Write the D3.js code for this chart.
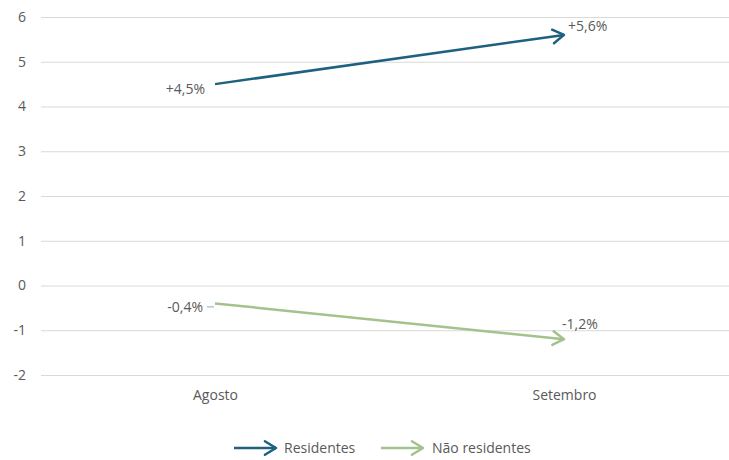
<!DOCTYPE html>
<html>
<head>
<meta charset="utf-8">
<script src="https://cdn.jsdelivr.net/npm/d3@7"></script>
<style>
body { margin: 0; background: #fff; }
svg text { font-family: "Open Sans", "Liberation Sans", sans-serif; fill: #595959; }
</style>
</head>
<body>
<svg id="svg" width="729" height="460"></svg>
<script>
var months = ['Agosto', 'Setembro'];
var residentes = [4.5, 5.6];
var naoResidentes = [-0.4, -1.2];
var seriesNames = ['Residentes', 'Não residentes'];
var seriesColors = ['#1d6080', '#a3c28c'];
var yTicks = [-2, -1, 0, 1, 2, 3, 4, 5, 6];

var svg = d3.select('svg');
var fs = 14;

var x = d3.scalePoint()
    .domain(months)
    .range([215, 564]);

var y = d3.scaleLinear()
    .domain([-2, 6])
    .range([375, 17]);

// gridlines
svg.append('g')
    .selectAll('line')
    .data(yTicks)
    .enter()
    .append('line')
    .attr('x1', 41)
    .attr('x2', 729)
    .attr('y1', function (d) { return y(d) + 0.5; })
    .attr('y2', function (d) { return y(d) + 0.5; })
    .attr('stroke', '#d9d9d9')
    .attr('stroke-width', 1);

var yAxis = svg.append('g')
    .attr('transform', 'translate(26,0)')
    .call(d3.axisLeft(y).tickValues(yTicks).tickSize(0).tickPadding(0)
        .tickFormat(function (d) { return String(d); }));
yAxis.select('.domain').remove();
yAxis.selectAll('text')
    .attr('font-size', fs)
    .style('font-family', '"Open Sans", sans-serif')
    .attr('fill', '#595959');

var xAxis = svg.append('g')
    .attr('transform', 'translate(0,390)')
    .call(d3.axisBottom(x).tickSize(0).tickPadding(0));
xAxis.select('.domain').remove();
xAxis.selectAll('text')
    .attr('font-size', fs)
    .attr('dy', '0.71em')
    .style('font-family', '"Open Sans", sans-serif')
    .attr('fill', '#595959');

function arrowHead(g, tipX, tipY, fromX, fromY, color) {
    var ang = Math.atan2(tipY - fromY, tipX - fromX);
    var len = 13, spread = 0.55;
    var p1 = [tipX - len * Math.cos(ang - spread), tipY - len * Math.sin(ang - spread)];
    var p2 = [tipX - len * Math.cos(ang + spread), tipY - len * Math.sin(ang + spread)];
    g.append('path')
        .attr('d', 'M' + p1 + 'L' + tipX + ',' + tipY + 'L' + p2)
        .attr('fill', 'none')
        .attr('stroke', color)
        .attr('stroke-width', 2.5)
        .attr('stroke-linecap', 'round')
        .attr('stroke-linejoin', 'round');
}

var line = d3.line()
    .x(function (d, i) { return x(months[i]); })
    .y(function (d) { return y(d); });

[residentes, naoResidentes].forEach(function (vals, s) {
    var g = svg.append('g');
    g.append('path')
        .attr('d', line(vals))
        .attr('fill', 'none')
        .attr('stroke', seriesColors[s])
        .attr('stroke-width', 2.5);
    arrowHead(g, x(months[1]), y(vals[1]), x(months[0]), y(vals[0]), seriesColors[s]);
});

var fmt = function (v) {
    return (v > 0 ? '+' : '') + v.toFixed(1).replace('.', ',') + '%';
};

// data labels
svg.append('text')
    .attr('x', x(months[0]) - 10)
    .attr('y', y(residentes[0]) + 10)
    .attr('text-anchor', 'end')
    .attr('font-size', fs)
    .text(fmt(residentes[0]));

svg.append('text')
    .attr('x', x(months[1]) + 4)
    .attr('y', y(residentes[1]) - 4)
    .attr('font-size', fs)
    .text(fmt(residentes[1]));

svg.append('line')
    .attr('x1', x(months[0]) - 8)
    .attr('x2', x(months[0]) - 1)
    .attr('y1', y(naoResidentes[0]) + 3.5)
    .attr('y2', y(naoResidentes[0]) + 3.5)
    .attr('stroke', '#a6a6a6')
    .attr('stroke-width', 1);

svg.append('text')
    .attr('x', x(months[0]) - 12)
    .attr('y', y(naoResidentes[0]) + 9)
    .attr('text-anchor', 'end')
    .attr('font-size', fs)
    .text(fmt(naoResidentes[0]));

svg.append('text')
    .attr('x', x(months[1]) - 2)
    .attr('y', y(naoResidentes[1]) - 10)
    .attr('font-size', fs)
    .text(fmt(naoResidentes[1]));

// legend
var legendX = [234, 381];
var legendText = [284, 432];
seriesNames.forEach(function (name, s) {
    var g = svg.append('g');
    g.append('line')
        .attr('x1', legendX[s])
        .attr('x2', legendX[s] + 42)
        .attr('y1', 448)
        .attr('y2', 448)
        .attr('stroke', seriesColors[s])
        .attr('stroke-width', 2.5);
    arrowHead(g, legendX[s] + 42, 448, legendX[s], 448, seriesColors[s]);
    g.append('text')
        .attr('x', legendText[s])
        .attr('y', 453)
        .attr('font-size', fs)
        .text(name);
});
</script>
</body>
</html>
